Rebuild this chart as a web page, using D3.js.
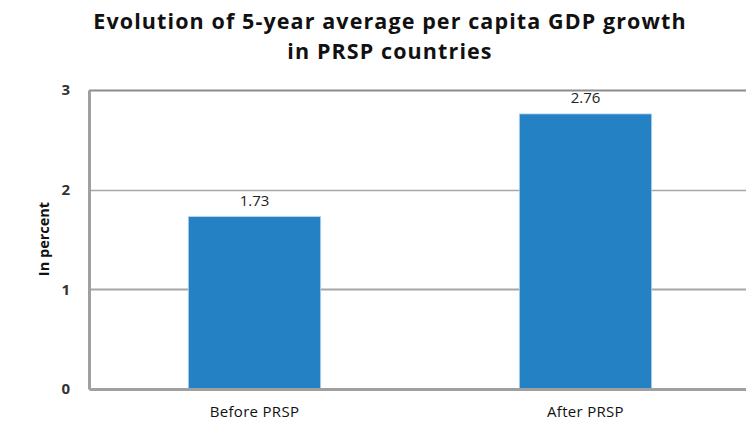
<!DOCTYPE html>
<html>
<head>
<meta charset="utf-8">
<script src="https://cdn.jsdelivr.net/npm/d3@7"></script>
<style>
  html, body { margin: 0; padding: 0; background: #fff; }
  svg { display: block; }
</style>
</head>
<body>
<svg id="chart" width="746" height="430"></svg>
<script>
// Chart data
const categories = ["Before PRSP", "After PRSP"];
const values = [1.73, 2.76];
const yTicks = [0, 1, 2, 3];
const titleLines = ["Evolution of 5-year average per capita GDP growth", "in PRSP countries"];
const yAxisTitle = "In percent";

const svg = d3.select("#chart");
const font = "'Open Sans', sans-serif";

const plot = { left: 89, right: 751, top: 90, bottom: 389 };

const x = d3.scaleBand()
  .domain(categories)
  .range([plot.left, plot.right])
  .paddingInner(0.6)
  .paddingOuter(0.3);

const y = d3.scaleLinear()
  .domain([0, 3])
  .range([plot.bottom, plot.top]);

// Title
svg.append("g")
  .selectAll("text")
  .data(titleLines)
  .join("text")
  .attr("x", 390)
  .attr("y", (d, i) => 29 + i * 30)
  .attr("text-anchor", "middle")
  .attr("font-family", font)
  .attr("font-weight", "bold")
  .attr("font-size", 21.5)
  .attr("letter-spacing", 1.1)
  .attr("fill", "#111")
  .text(d => d);

// Horizontal gridlines
svg.append("g")
  .selectAll("line")
  .data(yTicks.filter(t => t > 0))
  .join("line")
  .attr("x1", plot.left)
  .attr("x2", plot.right)
  .attr("y1", d => Math.round(y(d)) + 0.5)
  .attr("y2", d => Math.round(y(d)) + 0.5)
  .attr("stroke", d => d === 3 ? "#8c8c8c" : "#a6a6a6")
  .attr("stroke-width", d => d === 2 ? 1.5 : 2);

// Bars
svg.append("g")
  .selectAll("rect")
  .data(values)
  .join("rect")
  .attr("x", (d, i) => x(categories[i]))
  .attr("y", d => y(d))
  .attr("width", x.bandwidth())
  .attr("height", d => y(0) - y(d))
  .attr("fill", "#2381c4")
  .attr("stroke", "#bcd7ee")
  .attr("stroke-width", 0.8);

// Value labels
svg.append("g")
  .selectAll("text")
  .data(values)
  .join("text")
  .attr("x", (d, i) => x(categories[i]) + x.bandwidth() / 2)
  .attr("y", d => y(d) - 11)
  .attr("text-anchor", "middle")
  .attr("font-family", font)
  .attr("font-size", 15)
  .attr("fill", "#222")
  .text(d => d.toFixed(2));

// Y axis
const yAxis = svg.append("g")
  .attr("transform", `translate(${plot.left},0)`)
  .call(d3.axisLeft(y).tickValues(yTicks).tickSize(0).tickPadding(19).tickFormat(d3.format("d")));
yAxis.select(".domain")
  .attr("stroke", "#a0a0a0")
  .attr("stroke-width", 3);
yAxis.selectAll("text")
  .attr("font-family", font)
  .attr("font-weight", "bold")
  .attr("font-size", 15)
  .attr("fill", "#333");

// X axis baseline and category labels
const xAxis = svg.append("g")
  .attr("transform", `translate(0,${plot.bottom})`)
  .call(d3.axisBottom(x).tickSize(0).tickPadding(17));
xAxis.select(".domain")
  .attr("stroke", "#a0a0a0")
  .attr("stroke-width", 3);
xAxis.selectAll("text")
  .attr("font-family", font)
  .attr("font-size", 15)
  .attr("letter-spacing", 0.3)
  .attr("fill", "#111");

// Y axis title
svg.append("text")
  .attr("transform", `translate(49,239) rotate(-90)`)
  .attr("text-anchor", "middle")
  .attr("font-family", font)
  .attr("font-weight", "bold")
  .attr("font-size", 14.5)
  .attr("fill", "#111")
  .text(yAxisTitle);
</script>
</body>
</html>
